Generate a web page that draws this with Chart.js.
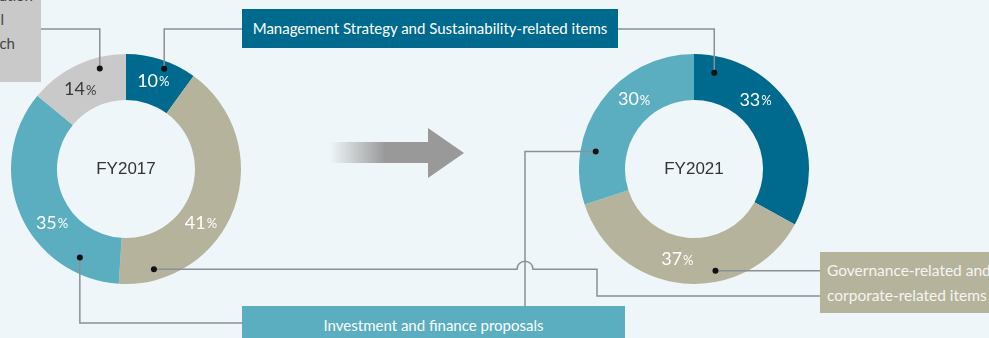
<!DOCTYPE html>
<html>
<head>
<meta charset="utf-8">
<script src="https://cdn.jsdelivr.net/npm/chart.js@4.4.1/dist/chart.umd.min.js"></script>
<style>
html, body { margin: 0; padding: 0; }
body { width: 989px; height: 338px; overflow: hidden; position: relative; background: #eff6f9; font-family: Lato, "Open Sans", sans-serif; }
canvas { position: absolute; }
#c2017 { left: 11px; top: 54px; }
#c2021 { left: 579px; top: 54px; }
#overlay { left: 0; top: 0; }
.box { position: absolute; box-sizing: border-box; font-size: 15px; white-space: nowrap; color: #fff; }
#boxMgmt { left: 242px; top: 9px; width: 376px; height: 39px; line-height: 39px; text-align: center; background: #006a8e; }
#boxInv { left: 242px; top: 306px; width: 383px; height: 40px; line-height: 38px; text-align: center; background: #5aaec0; }
#boxGov { left: 820px; top: 252px; width: 200px; height: 61px; line-height: 25px; padding: 6px 0 0 7px; font-size: 15.5px; background: #b5b39b; color: #f6f5ef; }
#boxOther { left: -200px; top: -20px; width: 241px; height: 102px; line-height: 24px; padding-top: 3px; background: #c9c9c9; color: #444; }
#boxOther div { text-align: right; }
</style>
</head>
<body>
<canvas id="c2017" width="230" height="230"></canvas>
<canvas id="c2021" width="230" height="230"></canvas>
<canvas id="overlay" width="989" height="338"></canvas>
<div class="box" id="boxMgmt">Management Strategy and Sustainability-related items</div>
<div class="box" id="boxInv">Investment and finance proposals</div>
<div class="box" id="boxGov">Governance-related and<br>corporate-related items</div>
<div class="box" id="boxOther">
  <div style="padding-right:8px">Capital allocation</div>
  <div style="padding-right:37px">and approval</div>
  <div style="padding-right:26px">research</div>
</div>
<script>
// categories in drawing order (clockwise from 12 o'clock)
const categories = ['Management Strategy and Sustainability-related items', 'Governance-related and corporate-related items', 'Investment and finance proposals', 'Other'];
const years = ['FY2017', 'FY2021'];
const fy2017 = [10, 41, 35, 14];
const fy2021 = [33, 37, 30];
const colors = ['#006a8e', '#b5b39b', '#5aaec0', '#c9c9c9'];

// percentage labels: number big, "%" small
const ringLabels = {
  id: 'ringLabels',
  afterDatasetsDraw(chart, args, opts) {
    const ctx = chart.ctx;
    const arcs = chart.getDatasetMeta(0).data;
    const vals = chart.data.datasets[0].data;
    ctx.save();
    ctx.textBaseline = 'middle';
    arcs.forEach((arc, i) => {
      const p = arc.getProps(['x', 'y', 'startAngle', 'endAngle', 'innerRadius', 'outerRadius']);
      const a = p.startAngle + opts.labelAt[i] * (p.endAngle - p.startAngle);
      const r = (p.innerRadius + p.outerRadius) / 2;
      const x = p.x + r * Math.cos(a), y = p.y + r * Math.sin(a);
      const num = String(vals[i]);
      ctx.font = '18px Lato, sans-serif';
      const w1 = ctx.measureText(num).width;
      ctx.font = '13px Lato, sans-serif';
      const w2 = ctx.measureText('%').width;
      const x0 = x - (w1 + w2) / 2;
      ctx.fillStyle = i === 3 ? '#3a3a3a' : '#ffffff';
      ctx.textAlign = 'left';
      ctx.font = '18px Lato, sans-serif';
      ctx.fillText(num, x0, y);
      ctx.font = '13px Lato, sans-serif';
      ctx.fillText('%', x0 + w1 + 1, y + 1);
    });
    const c = arcs[0];
    ctx.fillStyle = '#333';
    ctx.textAlign = 'center';
    ctx.font = '17px "Liberation Sans", Arial, sans-serif';
    ctx.fillText(opts.title, c.x, c.y);
    ctx.restore();
  }
};

function makeChart(id, values, title, labelAt) {
  return new Chart(document.getElementById(id), {
    type: 'doughnut',
    data: {
      labels: categories.slice(0, values.length),
      datasets: [{
        data: values,
        backgroundColor: colors.slice(0, values.length),
        borderWidth: 0
      }]
    },
    options: {
      responsive: false,
      animation: false,
      events: [],
      cutout: '60%',
      layout: { padding: 0 },
      plugins: {
        legend: { display: false },
        tooltip: { enabled: false },
        ringLabels: { title: title, labelAt: labelAt }
      }
    },
    plugins: [ringLabels]
  });
}

const chartL = makeChart('c2017', fy2017, years[0], [0.47, 0.61, 0.40, 0.40]);
const chartR = makeChart('c2021', fy2021, years[1], [0.35, 0.54, 0.62]);

// point inside a segment (page coords): t along the angle, f across the ring
function anchor(chart, i, t, f) {
  const p = chart.getDatasetMeta(0).data[i].getProps(['x', 'y', 'startAngle', 'endAngle', 'innerRadius', 'outerRadius']);
  const a = p.startAngle + t * (p.endAngle - p.startAngle);
  const r = p.innerRadius + f * (p.outerRadius - p.innerRadius);
  return {
    x: chart.canvas.offsetLeft + p.x + r * Math.cos(a),
    y: chart.canvas.offsetTop + p.y + r * Math.sin(a)
  };
}

const ov = document.getElementById('overlay').getContext('2d');

// arrow between the two years
const grad = ov.createLinearGradient(330, 0, 385, 0);
grad.addColorStop(0, 'rgba(153,153,153,0)');
grad.addColorStop(1, 'rgba(153,153,153,1)');
ov.fillStyle = grad;
ov.beginPath();
ov.moveTo(330, 142); ov.lineTo(428, 142); ov.lineTo(428, 128); ov.lineTo(464, 153);
ov.lineTo(428, 178); ov.lineTo(428, 163); ov.lineTo(330, 163);
ov.closePath();
ov.fill();

// connectors
const L0 = anchor(chartL, 0, 0.58, 0.83);
const L1 = anchor(chartL, 1, 0.87, 0.76);
const L2 = anchor(chartL, 2, 0.19, 0.67);
const L3 = anchor(chartL, 3, 0.71, 0.76);
const R0 = anchor(chartR, 0, 0.10, 0.64);
const R1 = anchor(chartR, 1, 0.37, 0.76);
const R2 = anchor(chartR, 2, 0.26, 0.67);

ov.strokeStyle = '#8a9094';
ov.lineWidth = 1.5;
function path(pts) {
  ov.beginPath();
  ov.moveTo(pts[0][0], pts[0][1]);
  pts.slice(1).forEach(p => ov.lineTo(p[0], p[1]));
  ov.stroke();
}
path([[L0.x, L0.y], [L0.x, 29], [242, 29]]);
path([[618, 29], [R0.x, 29], [R0.x, R0.y]]);
path([[L3.x, L3.y], [L3.x, 29], [41, 29]]);
path([[L2.x, L2.y], [L2.x, 323], [242, 323]]);
path([[R2.x, R2.y], [525, R2.y], [525, 306]]);
path([[R1.x, R1.y], [820, R1.y]]);
// khaki line with a hop over the vertical connector
ov.beginPath();
ov.moveTo(L1.x, L1.y);
ov.lineTo(517, L1.y);
ov.arc(525, L1.y, 8, Math.PI, 0, false);
ov.lineTo(597, L1.y);
ov.lineTo(597, 296);
ov.lineTo(820, 296);
ov.stroke();

ov.fillStyle = '#111';
[L0, L1, L2, L3, R0, R1, R2].forEach(p => {
  ov.beginPath();
  ov.arc(p.x, p.y, 3, 0, Math.PI * 2);
  ov.fill();
});
</script>
</body>
</html>
